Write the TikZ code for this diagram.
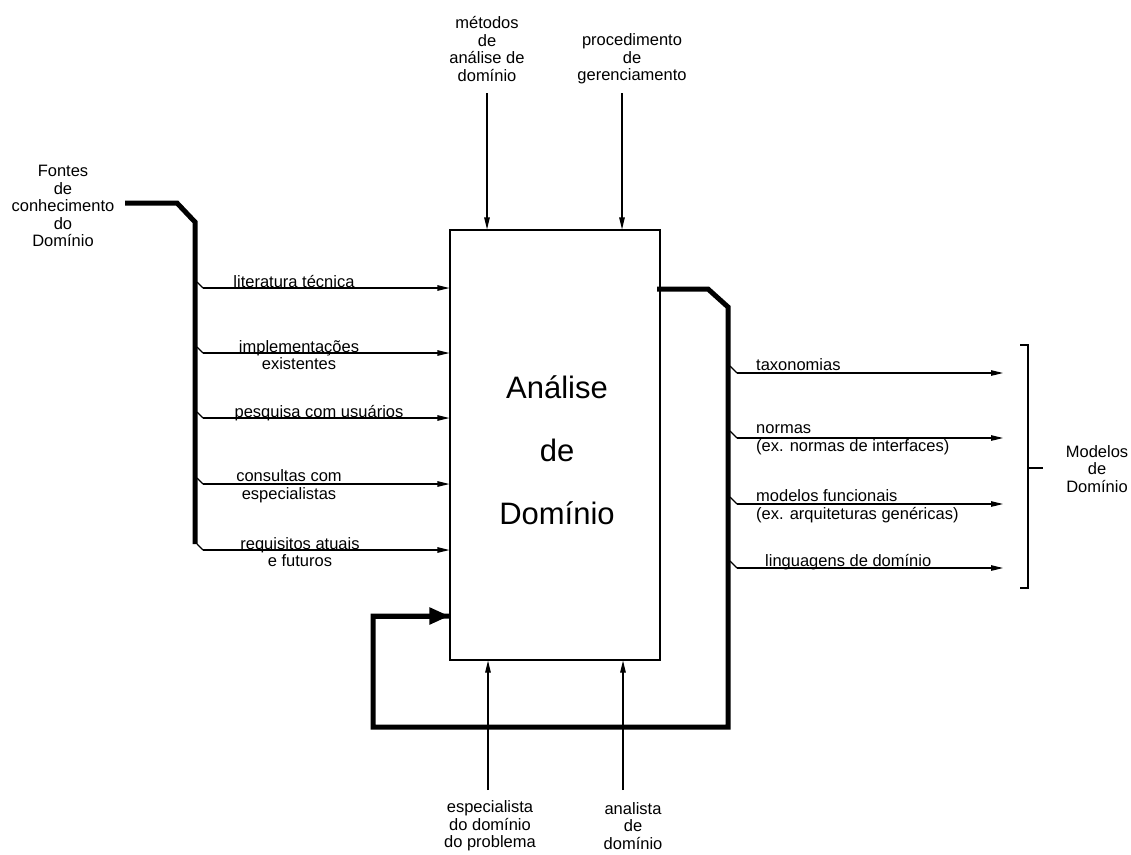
\documentclass[tikz,border=0pt]{standalone}
\usepackage{fontspec}
\setmainfont{Liberation Sans}
\usetikzlibrary{arrows.meta}
\begin{document}
\begin{tikzpicture}[x=1pt,y=-1pt,
  lab/.style={font=\fontsize{16.5}{17.5}\selectfont, align=center, inner sep=0pt},
  labl/.style={lab, align=left, anchor=west},
  thin/.style={line width=1.1pt},
  arr/.style={thin, -{Triangle[length=12pt,width=5.5pt]}},
  thick/.style={line width=5pt, line join=miter},
  bigarr/.style={thick, -{Triangle[length=20pt,width=16pt]}},
  procbox/.style={draw, line width=1.1pt, minimum width=210pt, minimum height=430pt, inner sep=0pt}]
\useasboundingbox (0,0) rectangle (1131,854);

% central activity
\node[procbox] (box) at (555,445) {};
\node[font=\fontsize{31}{63}\selectfont, align=center, inner sep=0pt] (title) at (557,450) {Análise\\de\\Domínio};

% controls from above
\node[lab] (metodos) at (487,49) {métodos\\de\\análise de\\domínio};
\node[lab] (proced) at (632,59) {procedimento\\de\\gerenciamento};
\coordinate (t1) at (487,93);
\coordinate (t2) at (622,93);
\draw[arr] (t1) -- (t1 |- box.north);
\draw[arr] (t2) -- (t2 |- box.north);

% mechanisms from below
\node[lab] (espec) at (490,826) {especialista\\do domínio\\do problema};
\node[lab] (analista) at (633,826) {analista\\de\\domínio};
\coordinate (u1) at (488,790);
\coordinate (u2) at (623,790);
\draw[arr] (u1) -- (u1 |- box.south);
\draw[arr] (u2) -- (u2 |- box.south);

% knowledge sources (input bundle)
\node[lab] (fontes) at (63,206) {Fontes\\de\\conhecimento\\do\\Domínio};
\coordinate (inA) at (125,203);
\coordinate (inB) at (177,203);
\coordinate (inC) at (195,222);
\coordinate (inD) at (195,544);
\draw[thick] (inA) -- (inB) -- (inC) -- (inD);

\foreach \yy [count=\i] in {288,353,418,484,550} {
  \coordinate (ls\i) at (197,\yy-6);
  \coordinate (le\i) at (203,\yy);
  \draw[thin] (ls\i) -- (le\i);
  \draw[arr] (le\i) -- (le\i -| box.west);
}
\node[lab] (lit) at (294,281) {literatura técnica};
\node[lab] (impl) at (299,355) {implementações\\existentes};
\node[lab] (pesq) at (319,413) {pesquisa com usuários};
\node[lab] (cons) at (289,486) {consultas com\\especialistas};
\node[lab] (req) at (300,552) {requisitos atuais\\e futuros};

% output bundle and feedback loop
\coordinate (fb1) at (657,289);
\coordinate (fb2) at (708,289);
\coordinate (fb3) at (728,307);
\coordinate (fb4) at (728,727);
\coordinate (fb5) at (373,727);
\coordinate (fb6) at (373,616);
\draw[thick] (fb1) -- (fb2) -- (fb3) -- (fb4) -- (fb5) -- (fb6) -- (fb6 -| box.west);
\draw[bigarr] (fb6) -- (fb6 -| box.west);

\coordinate (bend) at (1003,0);
\foreach \yy [count=\i] in {373,438,504,568} {
  \coordinate (rs\i) at (730,\yy-7);
  \coordinate (re\i) at (737,\yy);
  \draw[thin] (rs\i) -- (re\i);
  \draw[arr] (re\i) -- (re\i -| bend);
}
\node[labl] (tax) at (756,365) {taxonomias};
\node[labl] (norm) at (756,440) {normas\\(ex. normas de interfaces)};
\node[labl] (modf) at (756,506) {modelos funcionais\\(ex. arquiteturas genéricas)};
\node[labl] (ling) at (765,562) {linguagens de domínio};

% bracket grouping the outputs
\coordinate (bt) at (1028,345);
\coordinate (bb) at (1028,588);
\coordinate (bm) at (1028,468);
\draw[thin] ([xshift=-8]bt) -- (bt) -- (bb) -- ([xshift=-8]bb);
\draw[thin] (bm) -- ([xshift=15]bm);
\node[lab] (modelos) at (1097,469) {Modelos\\de\\Domínio};
\end{tikzpicture}
\end{document}
